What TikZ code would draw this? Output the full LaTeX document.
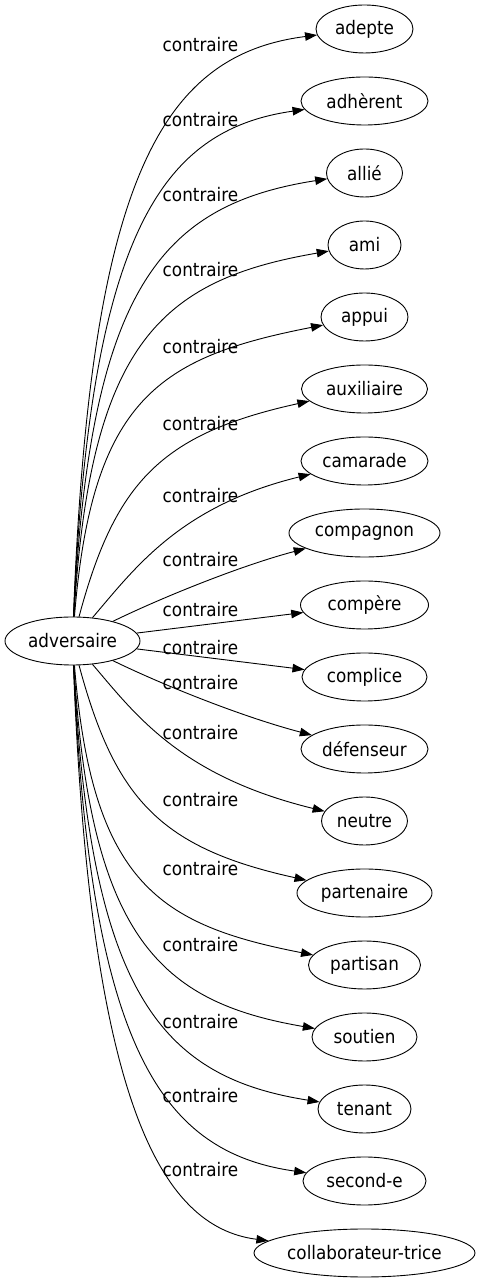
\documentclass[tikz,border=0pt]{standalone}
\usepackage{fontspec}
\setmainfont{DejaVu Sans}[FakeStretch=0.9]
\usetikzlibrary{arrows.meta,shapes.geometric}

\begin{document}
\begin{tikzpicture}[x=1pt, y=1pt,
    every node/.style={font=\fontsize{18.67}{22}\selectfont},
    mot/.style={draw, ellipse, line width=0.9pt, minimum height=48pt, inner sep=0pt},
    etiquette/.style={inner sep=0pt},
    lien/.style={-{Triangle[length=12pt, width=8.5pt]}, line width=0.9pt}]
  \useasboundingbox (0,0) rectangle (480,1283);
  \node[mot, minimum width=135pt] (adversaire) at (72.5,642) {adversaire};
  \foreach \nom/\texte/\larg [count=\i from 0] in {adepte/adepte/97, adherent/adhèrent/127,
      allie/allié/76, ami/ami/73, appui/appui/87, auxiliaire/auxiliaire/126,
      camarade/camarade/127, compagnon/compagnon/151, compere/compère/128,
      complice/complice/125, defenseur/défenseur/127, neutre/neutre/86,
      partenaire/partenaire/135, partisan/partisan/112, soutien/soutien/105,
      tenant/tenant/93, seconde/second-e/123, collaborateur/collaborateur-trice/221}
    \node[mot, minimum width=\larg pt] (\nom) at (364.5, 1254-72*\i) {\texte};
  \foreach \y [count=\k] in {45,120,195,270,347,424,496,560,610,648,683,733,800,869,945,1022,1096,1170}
    \node[etiquette] (etiq\k) at (200.5, 1283-\y) {contraire};
  \foreach \haut/\bas/\ax/\ay/\bx/\by in {adepte/collaborateur/90/1101/160/1228,
      adherent/seconde/90/1047/160/1153, allie/tenant/90/993/160/1078,
      ami/soutien/90/939/160/1003, appui/partisan/92/885/160/926,
      auxiliaire/partenaire/115/800/160/849, camarade/neutre/135/715/180/777,
      compagnon/defenseur/165/687/243/718}
  {
    \draw[lien] (adversaire) .. controls (\ax,\ay) and (\bx,\by) .. (\haut);
    \draw[lien] (adversaire) .. controls (\ax,1284-\ay) and (\bx,1284-\by) .. (\bas);
  }
  \draw[lien] (adversaire) -- (compere);
  \draw[lien] (adversaire) -- (complice);
\end{tikzpicture}
\end{document}
